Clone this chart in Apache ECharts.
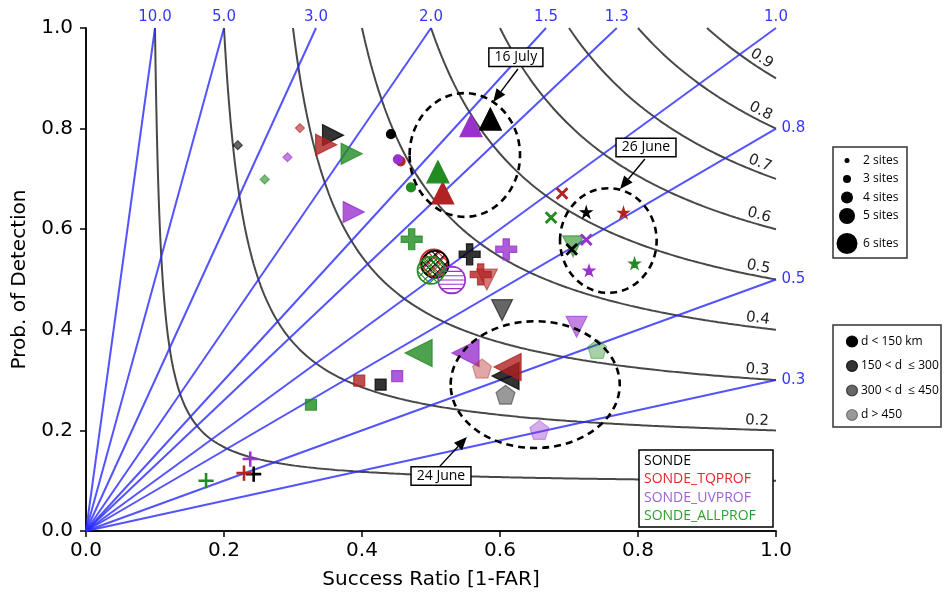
<!DOCTYPE html>
<html>
<head>
<meta charset="utf-8">
<script src="https://cdn.jsdelivr.net/npm/echarts@6/dist/echarts.min.js"></script>
<style>
  html, body { margin: 0; padding: 0; background: #fff; }
  #chart { width: 945px; height: 595px; }
</style>
</head>
<body>
<div id="chart"></div>
<script>
// ---- Isolines of the performance diagram ----
const csiLevels = [0.1, 0.2, 0.3, 0.4, 0.5, 0.6, 0.7, 0.8, 0.9];
const csiLabelLevels = [0.2, 0.3, 0.4, 0.5, 0.6, 0.7, 0.8, 0.9];
const biasLevels = [0.3, 0.5, 0.8, 1.0, 1.3, 1.5, 2.0, 3.0, 5.0, 10.0];
const biasTopLabels = ['10.0', '5.0', '3.0', '2.0', '1.5', '1.3', '1.0'];
const biasRightLabels = ['0.8', '0.5', '0.3'];

// ---- Experiments ----
const experiments = ['SONDE', 'SONDE_TQPROF', 'SONDE_UVPROF', 'SONDE_ALLPROF'];

// [success ratio, probability of detection] per case,
// listed in experiment order: SONDE, TQPROF, UVPROF, ALLPROF
const diamondPts  = [[0.220, 0.767], [0.310, 0.801], [0.292, 0.743], [0.259, 0.699]];
const triRightPts = [[0.358, 0.787], [0.348, 0.768], [0.388, 0.634], [0.385, 0.750]];
const circlePts   = [[0.442, 0.789], [0.456, 0.735], [0.452, 0.739], [0.471, 0.683]];
const triUpPts    = [[0.586, 0.819], [0.517, 0.672], [0.558, 0.806], [0.510, 0.714]];
const plusBigPts  = [[0.556, 0.550], [0.572, 0.510], [0.609, 0.560], [0.472, 0.580]];
const hatchPts    = [[0.506, 0.530], [0.504, 0.533], [0.530, 0.499], [0.500, 0.518]];
const triDownPts  = [[0.603, 0.439], [0.581, 0.500], [0.711, 0.406], [0.706, 0.566]];
const crossPts    = [[0.704, 0.560], [0.690, 0.671], [0.725, 0.579], [0.674, 0.623]];
const starPts     = [[0.725, 0.634], [0.779, 0.633], [0.729, 0.518], [0.795, 0.532]];
const triLeftPts  = [[0.608, 0.308], [0.611, 0.326], [0.550, 0.354], [0.482, 0.354]];
const pentagonPts = [[0.608, 0.271], [0.574, 0.323], [0.657, 0.201], [0.741, 0.362]];
const squarePts   = [[0.427, 0.291], [0.396, 0.299], [0.451, 0.308], [0.326, 0.251]];
const plusThinPts = [[0.243, 0.113], [0.229, 0.115], [0.238, 0.143], [0.174, 0.100]];

// ---- Highlighted cases ----
const caseNames = ['16 July', '26 June', '24 June'];
const caseEllipses = [[0.549, 0.7475, 0.080, 0.123], [0.757, 0.5775, 0.070, 0.104], [0.651, 0.291, 0.1225, 0.126]];
const caseBoxes = [[0.623, 0.942], [0.8116, 0.7624], [0.5145, 0.1093]];
const caseArrows = [[[0.626, 0.9185], [0.590, 0.853]], [[0.810, 0.7396], [0.774, 0.680]], [[0.513, 0.129], [0.552, 0.187]]];

// ---- Legends ----
const siteLabels = ['2 sites', '3 sites', '4 sites', '5 sites', '6 sites'];
const distLabels = ['d < 150 km', '150 < d  \u2264 300', '300 < d  \u2264 450', 'd > 450'];

// ---------------------------------------------------------------
const expColors = ['#000000', '#b22222', '#9932cc', '#228b22'];
const legendColors = ['#000000', '#e0282a', '#9b63d3', '#2ca02c'];

function rgba(hex, a) {
  const n = parseInt(hex.slice(1), 16);
  return 'rgba(' + ((n >> 16) & 255) + ',' + ((n >> 8) & 255) + ',' + (n & 255) + ',' + a + ')';
}
function polyPath(pts) {
  return 'path://' + pts.map((p, i) => (i ? 'L' : 'M') + p[0].toFixed(4) + ',' + p[1].toFixed(4)).join('') + 'Z';
}
function plusOutline(w) {
  return [[-w, -1], [w, -1], [w, -w], [1, -w], [1, w], [w, w], [w, 1], [-w, 1], [-w, w], [-1, w], [-1, -w], [-w, -w]];
}
const starPath = polyPath(Array.from({ length: 10 }, (_, i) => {
  const r = i % 2 ? 0.38 : 1, a = -Math.PI / 2 + i * Math.PI / 5;
  return [r * Math.cos(a), r * Math.sin(a)];
}));
const pentPath = polyPath(Array.from({ length: 5 }, (_, i) => {
  const a = -Math.PI / 2 + i * 2 * Math.PI / 5;
  return [Math.cos(a), Math.sin(a)];
}));
const plusBigPath = polyPath(plusOutline(0.3));
const plusThinPath = polyPath(plusOutline(0.1));
const crossPath = polyPath(plusOutline(0.12).map(([x, y]) => [(x - y) * Math.SQRT1_2, (x + y) * Math.SQRT1_2]));
const triUp = 'path://M0,-1L1,1L-1,1Z';
const triDown = 'path://M-1,-1L1,-1L0,1Z';
const triRight = 'path://M-1,-1L1,0L-1,1Z';
const triLeft = 'path://M1,-1L-1,0L1,1Z';

// Marker groups (style only; values come from the arrays above)
const groups = [
  { pts: diamondPts,  symbol: 'diamond',    size: 9,  alpha: 0.6 },
  { pts: triRightPts, symbol: triRight,     size: 21, alpha: 0.8 },
  { pts: circlePts,   symbol: 'circle',     size: 9,  alpha: 1.0 },
  { pts: triUpPts,    symbol: triUp,        size: 22, alpha: 1.0 },
  { pts: plusBigPts,  symbol: plusBigPath,  size: 21, alpha: 0.8 },
  null, // hatched circles, drawn by a custom series
  { pts: triDownPts,  symbol: triDown,      size: 21, alpha: 0.6 },
  { pts: crossPts,    symbol: crossPath,    size: 11, alpha: 1.0 },
  { pts: starPts,     symbol: starPath,     size: 11, alpha: 1.0 },
  { pts: triLeftPts,  symbol: triLeft,      size: 27, alpha: 0.8 },
  { pts: pentagonPts, symbol: pentPath,     size: 19, alpha: 0.4 },
  { pts: squarePts,   symbol: 'rect',       size: 11, alpha: 0.8 },
  { pts: plusThinPts, symbol: plusThinPath, size: 14, alpha: 1.0 }
];

// Open circles with hatching: hatch angles (deg), spacing, offset
const hatchEdges = ['#000000', '#d42020', '#9932cc', '#228b22'];
const hatchSpecs = [
  { angles: [45, -45], step: 7, off: 0 },
  { angles: [45, -45], step: 7, off: 3.5 },
  { angles: [90], step: 4.3, off: 0 },
  { angles: [-45, 45], step: 6, off: 2 }
];
const hatchDrawOrder = [1, 0, 2, 3];
const hatchRadius = 13.5;

function hatchPathData(cx, cy, r, spec) {
  let d = '';
  spec.angles.forEach(a => {
    const phi = a * Math.PI / 180;
    const nx = Math.cos(phi), ny = Math.sin(phi), tx = -ny, ty = nx;
    const kMin = Math.ceil((-r - spec.off) / spec.step), kMax = Math.floor((r - spec.off) / spec.step);
    for (let k = kMin; k <= kMax; k++) {
      const dd = k * spec.step + spec.off;
      if (Math.abs(dd) >= r - 0.5) continue;
      const h = Math.sqrt(r * r - dd * dd);
      const px = cx + nx * dd, py = cy + ny * dd;
      d += 'M' + (px - tx * h).toFixed(2) + ',' + (py - ty * h).toFixed(2) +
           'L' + (px + tx * h).toFixed(2) + ',' + (py + ty * h).toFixed(2);
    }
  });
  return d;
}

function csiCurve(c) {
  const k = 1 / c + 1, pts = [];
  for (let i = 0; i <= 200; i++) {
    const sr = c + (1 - c) * i / 200;
    pts.push([sr, 1 / (k - 1 / sr)]);
    const pod = c + (1 - c) * i / 200;
    pts.push([1 / (k - 1 / pod), pod]);
  }
  pts.sort((a, b) => a[0] - b[0]);
  return pts;
}

const series = [];
csiLevels.forEach(c => series.push({
  type: 'line', data: csiCurve(c), showSymbol: false, silent: true, z: 1,
  lineStyle: { color: 'rgba(40,40,40,0.85)', width: 2 }
}));
biasLevels.forEach(b => series.push({
  type: 'line', data: [[0, 0], [Math.min(1, 1 / b), Math.min(1, b)]], showSymbol: false, silent: true, z: 1,
  lineStyle: { color: 'rgba(40,40,255,0.8)', width: 2 }
}));

// Bias value labels along the top and right frame
series.push({
  type: 'scatter', silent: true, symbolSize: 1, itemStyle: { color: 'rgba(0,0,0,0)' }, z: 5,
  data: biasTopLabels.map(t => [1 / parseFloat(t), 1]),
  label: { show: true, position: 'top', distance: 3, color: '#0000ff', fontSize: 15, fontFamily: 'DejaVu Sans',
           formatter: p => biasTopLabels[p.dataIndex] }
});
series.push({
  type: 'scatter', silent: true, symbolSize: 1, itemStyle: { color: 'rgba(0,0,0,0)' }, z: 5,
  data: biasRightLabels.map(t => [1, parseFloat(t)]),
  label: { show: true, position: 'right', distance: 5, color: '#0000ff', fontSize: 15, fontFamily: 'DejaVu Sans',
           formatter: p => biasRightLabels[p.dataIndex] }
});

groups.forEach((grp, gi) => {
  if (!grp) {
    series.push({
      type: 'custom', z: 10 + gi, silent: true, clip: false,
      data: hatchDrawOrder.map(ei => ({ value: hatchPts[ei].concat([ei]) })),
      encode: { x: 0, y: 1 },
      renderItem: (params, api) => {
        const ei = api.value(2);
        const p = api.coord([api.value(0), api.value(1)]);
        return {
          type: 'group',
          children: [
            { type: 'path', shape: { pathData: hatchPathData(p[0], p[1], hatchRadius, hatchSpecs[ei]) },
              style: { fill: null, stroke: hatchEdges[ei], lineWidth: 1.1 } },
            { type: 'circle', shape: { cx: p[0], cy: p[1], r: hatchRadius },
              style: { fill: null, stroke: hatchEdges[ei], lineWidth: 1.7 } }
          ]
        };
      }
    });
    return;
  }
  series.push({
    type: 'scatter', z: 10 + gi, silent: true,
    data: grp.pts.map((p, ei) => ({
      value: p,
      symbol: grp.symbol,
      symbolSize: grp.size,
      itemStyle: { color: rgba(expColors[ei], grp.alpha), borderColor: rgba(expColors[ei], grp.alpha), borderWidth: 1.2, opacity: 1 }
    }))
  });
});

const axisFont = { fontSize: 20, fontFamily: 'DejaVu Sans', color: '#000' };
const frameLine = { show: true, lineStyle: { color: '#000', width: 1.5 } };

const option = {
  animation: false,
  backgroundColor: '#fff',
  grid: { left: 86, right: 169, top: 28, bottom: 64 },
  xAxis: [
    { type: 'value', min: 0, max: 1, interval: 0.2, position: 'bottom',
      name: 'Success Ratio [1-FAR]', nameLocation: 'middle', nameGap: 39, nameTextStyle: axisFont,
      axisLine: frameLine, axisTick: { show: true, length: 6, lineStyle: { color: '#000', width: 1.5 } },
      axisLabel: Object.assign({ margin: 10, formatter: v => v.toFixed(1) }, axisFont), splitLine: { show: false } },
    { type: 'value', min: 0, max: 1, position: 'top', axisLine: frameLine,
      axisTick: { show: false }, axisLabel: { show: false }, splitLine: { show: false } }
  ],
  yAxis: [
    { type: 'value', min: 0, max: 1, interval: 0.2, position: 'left',
      name: 'Prob. of Detection', nameLocation: 'middle', nameGap: 56, nameTextStyle: axisFont,
      axisLine: frameLine, axisTick: { show: true, length: 6, lineStyle: { color: '#000', width: 1.5 } },
      axisLabel: Object.assign({ margin: 13, formatter: v => v.toFixed(1) }, axisFont), splitLine: { show: false } },
    { type: 'value', min: 0, max: 1, position: 'right', axisLine: frameLine,
      axisTick: { show: false }, axisLabel: { show: false }, splitLine: { show: false } }
  ],
  series: series
};

const chart = echarts.init(document.getElementById('chart'), null, { renderer: 'canvas' });
chart.setOption(option);

// ---- Overlays positioned from data coordinates ----
const toPx = p => chart.convertToPixel({ gridIndex: 0 }, p);
const graphics = [];

// CSI labels, rotated along their curves near the right frame
csiLabelLevels.forEach(c => {
  const k = 1 / c + 1, sr = 0.972;
  const pod = 1 / (k - 1 / sr);
  const a = toPx([sr, pod]);
  const b = toPx([sr + 0.01, 1 / (k - 1 / (sr + 0.01))]);
  const ang = Math.atan2(b[1] - a[1], b[0] - a[0]);
  const off = 9;
  graphics.push({
    type: 'text', z: 60, silent: true,
    x: a[0] + Math.sin(ang) * off, y: a[1] - Math.cos(ang) * off, rotation: -ang,
    style: { text: c.toFixed(1), font: '15px "DejaVu Sans"', fill: '#222', align: 'center', verticalAlign: 'middle' }
  });
});

// Dashed ellipses, boxed names and arrows for the highlighted cases
caseNames.forEach((name, i) => {
  const e = caseEllipses[i];
  const c = toPx([e[0], e[1]]);
  const rx = toPx([e[0] + e[2], e[1]])[0] - c[0];
  const ry = c[1] - toPx([e[0], e[1] + e[3]])[1];
  graphics.push({
    type: 'ellipse', z: 70, silent: true,
    shape: { cx: c[0], cy: c[1], rx: rx, ry: ry },
    style: { fill: null, stroke: '#000', lineWidth: 2.6, lineDash: [7, 5] }
  });
  const s = toPx(caseArrows[i][0]), t = toPx(caseArrows[i][1]);
  const dx = t[0] - s[0], dy = t[1] - s[1], len = Math.hypot(dx, dy);
  const ux = dx / len, uy = dy / len, hl = 13, hw = 5.5;
  const bx = t[0] - ux * hl, by = t[1] - uy * hl;
  graphics.push({
    type: 'line', z: 70, silent: true,
    shape: { x1: s[0], y1: s[1], x2: bx, y2: by },
    style: { stroke: '#000', lineWidth: 1.4 }
  });
  graphics.push({
    type: 'polygon', z: 70, silent: true,
    shape: { points: [[t[0], t[1]], [bx - uy * hw, by + ux * hw], [bx + uy * hw, by - ux * hw]] },
    style: { fill: '#000' }
  });
  const bp = toPx(caseBoxes[i]);
  graphics.push({
    type: 'text', z: 75, silent: true, x: bp[0], y: bp[1],
    style: { text: name, font: '14px "Open Sans"', fill: '#000', align: 'center', verticalAlign: 'middle',
             backgroundColor: '#fff', borderColor: '#000', borderWidth: 1.5, padding: [2, 5, 1, 5] }
  });
});

// Experiment legend inside the plot
graphics.push({
  type: 'rect', z: 80, silent: true, shape: { x: 639, y: 450, width: 134, height: 77 },
  style: { fill: '#fff', stroke: '#000', lineWidth: 1.5 }
});
experiments.forEach((name, i) => graphics.push({
  type: 'text', z: 81, silent: true, x: 644, y: 461 + i * 18.5,
  style: { text: name, font: '14px "Open Sans"', fill: legendColors[i], verticalAlign: 'middle' }
}));

// Marker size legend (number of sites)
const siteSizes = [5, 8, 12, 16, 21];
const siteY = [160.5, 179, 197.5, 216, 243.5];
graphics.push({
  type: 'rect', z: 80, silent: true, shape: { x: 833, y: 147, width: 74, height: 111 },
  style: { fill: '#fff', stroke: '#333', lineWidth: 1.5 }
});
siteLabels.forEach((lab, i) => {
  graphics.push({ type: 'circle', z: 81, silent: true, shape: { cx: 847, cy: siteY[i], r: siteSizes[i] / 2 }, style: { fill: '#000' } });
  graphics.push({ type: 'text', z: 81, silent: true, x: 863, y: siteY[i],
    style: { text: lab, font: '12px "Open Sans"', fill: '#000', verticalAlign: 'middle' } });
});

// Shade legend (distance class)
const distAlpha = [1.0, 0.8, 0.6, 0.4];
const distY = [341.5, 366, 390.5, 415];
graphics.push({
  type: 'rect', z: 80, silent: true, shape: { x: 833, y: 325, width: 108, height: 102 },
  style: { fill: '#fff', stroke: '#333', lineWidth: 1.5 }
});
distLabels.forEach((lab, i) => {
  graphics.push({ type: 'circle', z: 81, silent: true, shape: { cx: 852, cy: distY[i], r: 5.5 },
    style: { fill: rgba('#000000', distAlpha[i]), stroke: rgba('#000000', distAlpha[i]), lineWidth: 1.2 } });
  graphics.push({ type: 'text', z: 81, silent: true, x: 861, y: distY[i],
    style: { text: lab, font: '12px "Open Sans"', fill: '#000', verticalAlign: 'middle' } });
});

chart.setOption({ graphic: graphics });
</script>
</body>
</html>
